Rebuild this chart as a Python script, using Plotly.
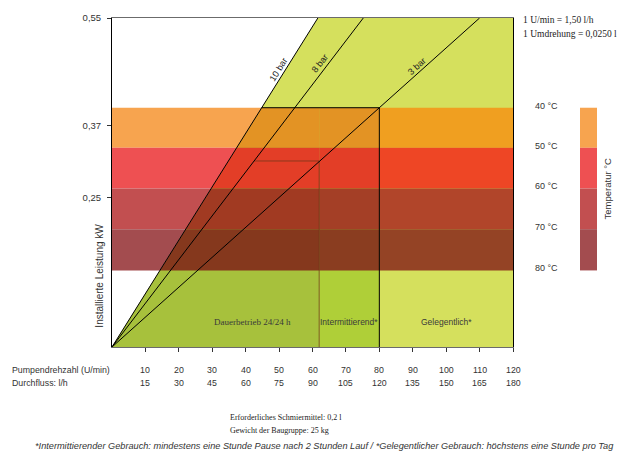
import math
import plotly.graph_objects as go

# ---------------- data ----------------
speed_rpm = [10, 20, 30, 40, 50, 60, 70, 80, 90, 100, 110, 120]
flow_lh = [15, 30, 45, 60, 75, 90, 105, 120, 135, 150, 165, 180]
y_ticks = [0.55, 0.37, 0.25]
y_tick_text = ["0,55", "0,37", "0,25"]
temps = ["40 °C", "50 °C", "60 °C", "70 °C", "80 °C"]
band_edges = [0.40, 0.333, 0.265, 0.197, 0.128]      # kW, at 40..80 °C
pressure_labels = ["10 bar", "8 bar", "3 bar"]
pressure_x_at_top = [61.6, 75.2, 110.0]                # U/min where line reaches 0.55 kW
zone_bounds = [62, 80, 120]                            # U/min
zone_labels = ["Dauerbetrieb 24/24 h", "Intermittierend*", "Gelegentlich*"]
limit_kw = 0.311                                       # inner rectangle top

X_MAX = 120
Y_MAX = 0.55

# ---------------- styles ----------------
SANS = "Liberation Sans, Arial, sans-serif"
SERIF = "Liberation Serif, Times New Roman, serif"
TXT = "#333333"
LIGHT_GREEN = "#D5E05D"
GREEN_A = "#A7C13C"
GREEN_B = "#AFCF38"
band_white = ["#F7A44F", "#EE5052", "#C24F50", "#A34C4F"]
band_A = ["#E39324", "#E33E27", "#A13A22", "#85381D"]
band_B = ["#E39324", "#E33E27", "#A43F26", "#8A3D20"]
band_C = ["#F09F20", "#EE4625", "#B1452A", "#944325"]

PLOT_W, PLOT_H = 401, 332

fig = go.Figure()


def poly(xs, ys, color):
    fig.add_trace(go.Scatter(
        x=list(xs) + [xs[0]], y=list(ys) + [ys[0]], mode="lines",
        fill="toself", fillcolor=color, line=dict(width=0, color=color),
        hoverinfo="skip", showlegend=False))


def line(xs, ys, color="black", width=1):
    fig.add_trace(go.Scatter(
        x=xs, y=ys, mode="lines", line=dict(color=color, width=width),
        hoverinfo="skip", showlegend=False))


def xl(xtop, y):
    return xtop * y / Y_MAX


def px_x(p):
    return (p - 112) / PLOT_W


def px_y(p):
    return (347 - p) / PLOT_H


x10 = pressure_x_at_top[0]
z1, z2, z3 = zone_bounds

# green areas
poly([0, x10, z3, z3], [0, Y_MAX, Y_MAX, 0], LIGHT_GREEN)
poly([0, xl(x10, band_edges[0]), z1, z1], [0, band_edges[0], band_edges[0], 0], GREEN_A)
poly([z1, z1, z2, z2], [0, band_edges[0], band_edges[0], 0], GREEN_B)

# temperature bands
for i in range(len(band_edges) - 1):
    hi, lo = band_edges[i], band_edges[i + 1]
    poly([0, xl(x10, lo), xl(x10, hi), 0], [lo, lo, hi, hi], band_white[i])
    poly([xl(x10, lo), z1, z1, xl(x10, hi)], [lo, lo, hi, hi], band_A[i])
    poly([z1, z2, z2, z1], [lo, lo, hi, hi], band_B[i])
    poly([z2, z3, z3, z2], [lo, lo, hi, hi], band_C[i])

# inner rectangle (continuous duty limit)
line([xl(pressure_x_at_top[1], limit_kw), z1, z1], [limit_kw, limit_kw, 0],
     color="rgba(110,55,25,0.75)", width=1)

# outer limit
line([xl(x10, band_edges[0]), z2, z2], [band_edges[0], band_edges[0], 0])

# pressure lines
for xt in pressure_x_at_top:
    line([0, xt], [0, Y_MAX])

annotations = []


def note(x, y, text, font, xref="paper", yref="paper", xanchor="center", **kw):
    annotations.append(dict(x=x, y=y, xref=xref, yref=yref, text=text, showarrow=False,
                            xanchor=xanchor, yanchor="middle", font=font, **kw))


# pressure labels (placed just left of each line)
label_y = [0.464, 0.4755, 0.4705]
label_shift = [-6.6, -9.3, -9.5]
for lab, xt, yy, sh in zip(pressure_labels, pressure_x_at_top, label_y, label_shift):
    ang = math.degrees(math.atan(PLOT_H / (xt / X_MAX * PLOT_W)))
    note(xl(xt, yy), yy, lab, dict(family=SANS, size=9, color="#222"),
         xref="x", yref="y", textangle=-ang, xshift=sh)

# zone labels
zone_x = [42, (z1 + z2) / 2, (z2 + z3) / 2]
zone_fonts = [SERIF, SANS, SANS]
zone_sizes = [9, 8.5, 8.5]
for lab, x, f, s in zip(zone_labels, zone_x, zone_fonts, zone_sizes):
    note(x, 0.0415, lab, dict(family=f, size=s, color="#3a3a3a"), xref="x", yref="y")

# x tick labels (two rows)
row1_y = px_y(370)
row2_y = px_y(383)
tick_font = dict(family=SANS, size=8.8, color=TXT)
for r, f in zip(speed_rpm, flow_lh):
    note(r, row1_y, str(r), tick_font, xref="x")
    note(r, row2_y, str(f), tick_font, xref="x")
note(px_x(10), row1_y, "Pumpendrehzahl (U/min)", tick_font, xanchor="left")
note(px_x(10), row2_y, "Durchfluss: l/h", tick_font, xanchor="left")

# y axis title
note(px_x(100), px_y(275), "Installierte Leistung kW",
     dict(family=SANS, size=10, color=TXT), textangle=-90)

# conversion notes
note(px_x(521), px_y(17), "1 U/min = 1,50 l/h", dict(family=SERIF, size=9.5, color="#222"),
     xanchor="left")
note(px_x(521), px_y(31), "1 Umdrehung = 0,0250 l", dict(family=SERIF, size=9.5, color="#222"),
     xanchor="left")

# temperature legend
shapes = []
lx0, lx1 = px_x(580), px_x(597)
for i in range(len(band_edges) - 1):
    shapes.append(dict(type="rect", xref="paper", yref="y", x0=lx0, x1=lx1,
                       y0=band_edges[i + 1], y1=band_edges[i],
                       fillcolor=band_white[i], line=dict(width=0), layer="above"))
for t, e in zip(temps, band_edges):
    note(px_x(560), e, t, dict(family=SANS, size=9, color=TXT), yref="y",
         xanchor="right", yshift=2)
note(px_x(607), px_y(188), "Temperatur °C", dict(family=SANS, size=9.5, color=TXT),
     textangle=-90)

# bottom notes
note(px_x(228), px_y(418), "Erforderliches Schmiermittel: 0,2 l",
     dict(family=SERIF, size=8, color="#222"), xanchor="left")
note(px_x(228), px_y(431), "Gewicht der Baugruppe: 25 kg",
     dict(family=SERIF, size=8, color="#222"), xanchor="left")
note(px_x(324), px_y(447),
     "<i>*Intermittierender Gebrauch: mindestens eine Stunde Pause nach 2 Stunden Lauf / "
     "*Gelegentlicher Gebrauch: höchstens eine Stunde pro Tag</i>",
     dict(family=SANS, size=9.2, color=TXT))

fig.update_layout(
    width=617, height=454,
    margin=dict(l=112, r=104, t=15, b=107),
    plot_bgcolor="white", paper_bgcolor="white",
    showlegend=False,
    annotations=annotations,
    shapes=shapes,
    xaxis=dict(range=[0, X_MAX], showgrid=False, zeroline=False, showline=True,
               linecolor="#6b6b6b", linewidth=1, mirror=True, ticks="outside", ticklen=4,
               tickcolor="#333", tickvals=speed_rpm, showticklabels=False, fixedrange=True),
    yaxis=dict(range=[0, Y_MAX], showgrid=False, zeroline=False, showline=True,
               linecolor="black", linewidth=1, mirror=True, ticks="outside", ticklen=4,
               tickcolor="#333", tickvals=y_ticks, ticktext=y_tick_text,
               tickfont=dict(family=SANS, size=9.5, color=TXT), ticklabelstandoff=4,
               fixedrange=True),
)

fig.write_html("out.html")
